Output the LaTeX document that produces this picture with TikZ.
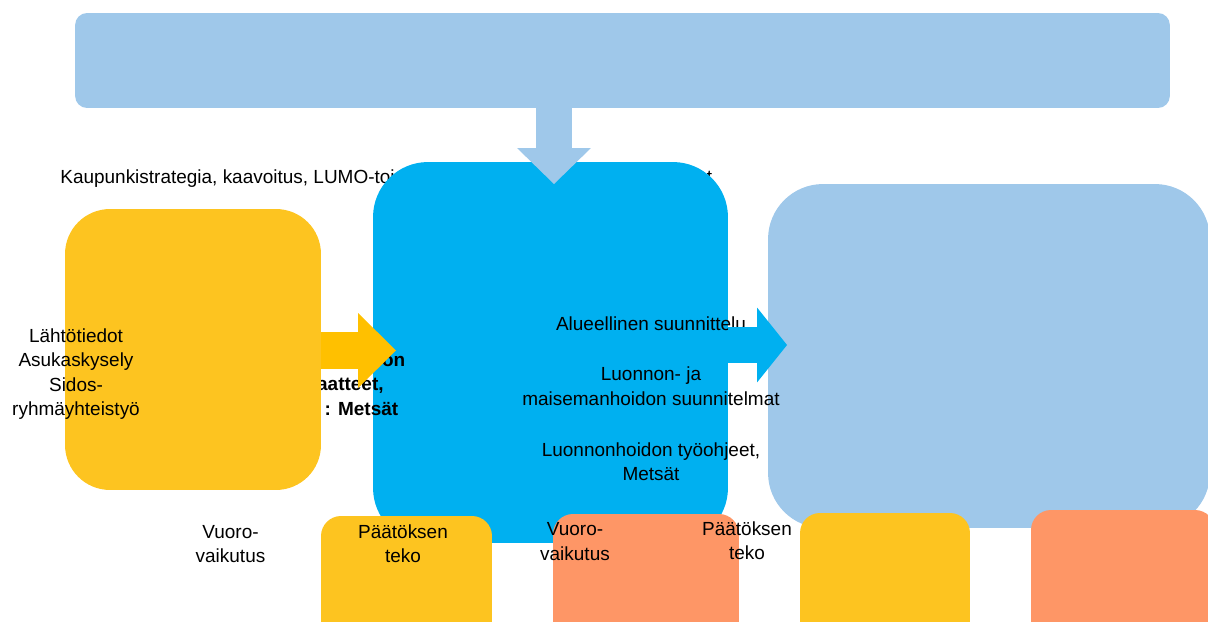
\documentclass[tikz,border=0pt]{standalone}
\usepackage{fontspec}
\setmainfont{Liberation Sans}
\usetikzlibrary{arrows.meta,positioning}
\definecolor{skyband}{HTML}{9FC8EA}
\definecolor{corecyan}{HTML}{00B0F0}
\definecolor{sunbox}{HTML}{FDC420}
\definecolor{sunarrow}{HTML}{FFC000}
\definecolor{coral}{HTML}{FE9666}
\tikzset{
  panel/.style={inner sep=0pt, draw=none},
  lab/.style={text=black, font=\fontsize{10.8}{13.9}\selectfont, align=center, inner sep=0pt},
  labb/.style={lab, font=\fontsize{10.8}{13.9}\selectfont\bfseries},
  tile/.style={panel, rounded corners=0.4cm},
}

\begin{document}
\begin{tikzpicture}[x=0.02cm, y=-0.02cm]
\useasboundingbox (0,0) rectangle (1208,622);
\clip (0,0) rectangle (1208,622);
% top band and the line below it
\node[panel, fill=skyband, rounded corners=0.24cm, minimum width=21.9cm, minimum height=1.9cm] (band) at (622.5,60.5) {};
\node[lab, anchor=base west] (strat) at (60,183) {\makebox[13.04cm][l]{Kaupunkistrategia, kaavoitus, LUMO-toimintaohjelma,\hfill muut ohjelmat}};
% big panels
\node[panel, fill=skyband, rounded corners=1.1cm, minimum width=8.84cm, minimum height=6.88cm] (outcome) at (989,356) {};
\node[panel, fill=corecyan, rounded corners=1.1cm, minimum width=7.1cm, minimum height=7.62cm] (core) at (550.5,352.5) {};
\coordinate (downtip) at (554,184);
\draw[skyband, line width=0.72cm, -{Triangle[length=0.72cm, width=1.48cm, line width=0pt]}] (band.south -| downtip) -- (downtip);
\node[labb] (rules) at (333,384) {Luonnonhoidon\\ periaatteet,\\ tiedot : Metsät};
\node[panel, fill=sunbox, rounded corners=0.9cm, minimum width=5.12cm, minimum height=5.62cm] (input) at (193,349.5) {};
\coordinate (intip) at (396,350.5);
\draw[sunarrow, line width=0.74cm, -{Triangle[length=0.76cm, width=1.5cm, line width=0pt]}] (input.east |- intip) -- (intip);
\node[lab] (sources) at (76,374) {Lähtötiedot\\ Asukaskysely\\ Sidos-\\ ryhmäyhteistyö};
\node[lab] (plans) at (651,398.5) {Alueellinen suunnittelu\\[15pt] Luonnon- ja\\ maisemanhoidon suunnitelmat\\[15pt] Luonnonhoidon työohjeet,\\ Metsät};
\coordinate (outtip) at (787,345);
\draw[corecyan, line width=0.72cm, -{Triangle[length=0.6cm, width=1.5cm, line width=0pt]}] (core.east |- outtip) -- (outtip);
% bottom row
\node[tile, fill=sunbox, minimum width=3.42cm, minimum height=2.68cm] (dec1) at (406.5,583) {};
\node[tile, fill=coral, minimum width=3.72cm, minimum height=2.72cm] (int1) at (646,582) {};
\node[tile, fill=sunbox, minimum width=3.4cm, minimum height=2.74cm] (dec2) at (885,581.5) {};
\node[tile, fill=coral, minimum width=3.68cm, minimum height=2.8cm] (int2) at (1123,580) {};
\node[lab] (vuoro1) at (230.5,544) {Vuoro-\\ vaikutus};
\node[lab] (paat1) at (403,544) {Päätöksen\\ teko};
\node[lab] (vuoro2) at (575,541.5) {Vuoro-\\ vaikutus};
\node[lab] (paat2) at (747,541) {Päätöksen\\ teko};
\end{tikzpicture}
\end{document}
